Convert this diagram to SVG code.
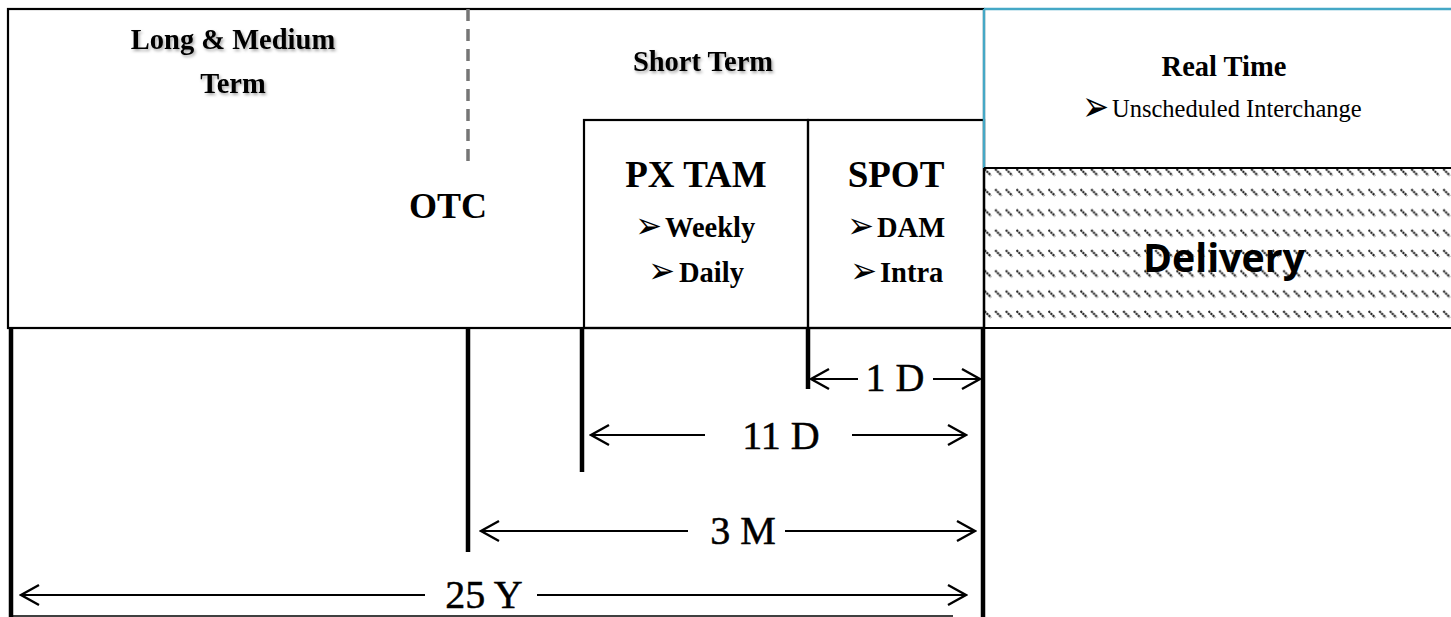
<svg xmlns="http://www.w3.org/2000/svg" width="1451" height="617" viewBox="0 0 1451 617">
  <style>
    .hd { font-family: "Liberation Serif", "Times New Roman", serif; font-weight: bold; fill: #000; text-anchor: middle; }
    .st { text-anchor: start; }
    .big { font-size: 37px; }
    .mid { font-size: 28.5px; }
    .bul { font-family: "DejaVu Sans", sans-serif; font-size: 32px; fill: #000; text-anchor: end; }
    .lbl { font-family: "Liberation Serif", "Times New Roman", serif; font-size: 40px; fill: #000; stroke: #000; stroke-width: 0.5; text-anchor: middle; }
    .frame { fill: none; stroke: #000; stroke-width: 2.2; }
    .tick { stroke: #000; stroke-width: 4.5; }
    .dim { stroke: #000; stroke-width: 2.2; fill: none; marker-end: url(#chev); }
  </style>
  <defs>
    <marker id="chev" markerUnits="userSpaceOnUse" viewBox="-22 -12 24 24" refX="0" refY="0" markerWidth="24" markerHeight="24" orient="auto">
      <path d="M -18,-10 L 0,0 L -18,10" fill="none" stroke="#000" stroke-width="2.4"/>
    </marker>
    <pattern id="hatch" patternUnits="userSpaceOnUse" x="984" y="168" width="10.67" height="20.3">
      <line x1="0.5" y1="1" x2="7" y2="7.5" stroke="#222" stroke-width="2.1" stroke-dasharray="2.2 0.7"/>
    </pattern>
    <filter id="tshadow" x="-10%" y="-30%" width="120%" height="160%">
      <feDropShadow dx="1.5" dy="2" stdDeviation="1.5" flood-color="#000" flood-opacity="0.35"/>
    </filter>
    <filter id="blur" x="-5%" y="-200%" width="110%" height="500%">
      <feGaussianBlur stdDeviation="2"/>
    </filter>
  </defs>

  <rect width="1451" height="617" fill="#fff"/>

  <!-- Main frame -->
  <g id="main-frame">
    <line x1="10" y1="333" x2="984" y2="333" stroke="#000" stroke-opacity="0.18" stroke-width="4" filter="url(#blur)"/>
    <rect class="frame" x="8" y="9" width="976" height="319"/>
  </g>

  <!-- Long & Medium term / OTC -->
  <g id="long-medium">
    <text class="hd mid" x="233" y="49" filter="url(#tshadow)">Long &amp; Medium</text>
    <text class="hd mid" x="233" y="93" filter="url(#tshadow)">Term</text>
  </g>
  <g id="otc">
    <line x1="468" y1="9" x2="468" y2="165" stroke="#767676" stroke-width="3.5" stroke-dasharray="12 8"/>
    <text class="hd" font-size="36" x="448" y="218">OTC</text>
  </g>

  <!-- Short term -->
  <g id="short-term">
    <text class="hd mid" x="703" y="71" filter="url(#tshadow)">Short Term</text>
  </g>

  <!-- PX TAM -->
  <g id="px-tam">
    <rect class="frame" x="584" y="120" width="224" height="208"/>
    <text class="hd big" x="696" y="187">PX TAM</text>
    <text class="bul" transform="translate(662,238) scale(1,1.15)">➢</text>
    <text class="hd mid st" x="665" y="237">Weekly</text>
    <text class="bul" transform="translate(675,283) scale(1,1.15)">➢</text>
    <text class="hd mid st" x="679" y="282">Daily</text>
  </g>

  <!-- SPOT -->
  <g id="spot">
    <rect class="frame" x="808" y="120" width="176" height="208"/>
    <text class="hd big" x="896" y="187">SPOT</text>
    <text class="bul" transform="translate(874,238) scale(1,1.15)">➢</text>
    <text class="hd mid st" x="877" y="237">DAM</text>
    <text class="bul" transform="translate(877,283) scale(1,1.15)">➢</text>
    <text class="hd mid st" x="880" y="282">Intra</text>
  </g>

  <!-- Real time -->
  <g id="real-time">
    <line x1="984" y1="9" x2="1451" y2="9" stroke="#45a8c6" stroke-width="2.4"/>
    <line x1="984" y1="9" x2="984" y2="168" stroke="#45a8c6" stroke-width="2.4"/>
    <text class="hd mid" x="1224" y="76">Real Time</text>
    <text class="bul" font-size="28" transform="translate(1109,121) scale(1,1.35)">➢</text>
    <text x="1112" y="117" font-family="Liberation Serif, Times New Roman, serif" font-size="24.5" fill="#000">Unscheduled Interchange</text>
  </g>

  <!-- Delivery -->
  <g id="delivery">
    <rect x="984" y="168" width="467" height="160" fill="url(#hatch)"/>
    <line x1="984" y1="168" x2="1451" y2="168" stroke="#000" stroke-width="2.2"/>
    <line x1="984" y1="328" x2="1451" y2="328" stroke="#000" stroke-width="2.2"/>
    <line x1="984" y1="168" x2="984" y2="328" stroke="#000" stroke-width="2.2"/>
    <text x="1224" y="272" font-family="Open Sans, Noto Sans, sans-serif" font-weight="bold" font-size="40" text-anchor="middle" textLength="162" lengthAdjust="spacingAndGlyphs" fill="#000">Delivery</text>
  </g>

  <!-- Connectors: time ticks and dimension arrows -->
  <g id="connectors">
    <line class="tick" x1="11" y1="328" x2="11" y2="617"/>
    <line class="tick" x1="468" y1="328" x2="468" y2="552"/>
    <line class="tick" x1="582" y1="328" x2="582" y2="472"/>
    <line class="tick" x1="808" y1="328" x2="808" y2="389"/>
    <line class="tick" x1="983" y1="328" x2="983" y2="617"/>

    <line class="dim" x1="858" y1="379" x2="811" y2="379"/>
    <line class="dim" x1="933" y1="379" x2="980" y2="379"/>

    <line class="dim" x1="705" y1="435" x2="591" y2="435"/>
    <line class="dim" x1="852" y1="435" x2="966" y2="435"/>

    <line class="dim" x1="688" y1="531" x2="481" y2="531"/>
    <line class="dim" x1="785" y1="531" x2="975" y2="531"/>

    <line class="dim" x1="425" y1="595" x2="21" y2="595"/>
    <line class="dim" x1="537" y1="595" x2="966" y2="595"/>

    <line x1="10" y1="616" x2="953" y2="616" stroke="#000" stroke-width="1.5"/>
  </g>

  <g id="dimension-labels">
    <text class="lbl" x="895" y="391">1 D</text>
    <text class="lbl" x="781" y="449">11 D</text>
    <text class="lbl" x="743" y="544">3 M</text>
    <text class="lbl" x="484" y="608">25 Y</text>
  </g>
</svg>
